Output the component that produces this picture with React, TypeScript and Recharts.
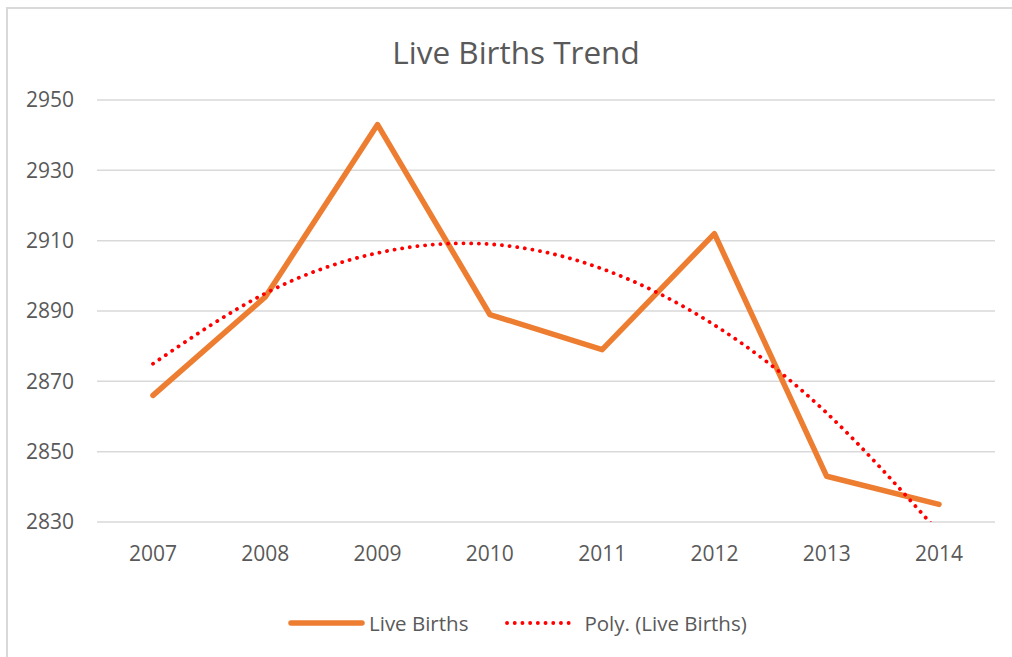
import { LineChart, Line, XAxis, YAxis, CartesianGrid } from "recharts";

const years = ["2007", "2008", "2009", "2010", "2011", "2012", "2013", "2014"];
const liveBirths = [2866, 2894, 2943, 2889, 2879, 2912, 2843, 2835];
const polyTrend = [2875, 2895, 2906.5, 2909, 2902, 2886, 2861, 2827];
const yTicks = [2830, 2850, 2870, 2890, 2910, 2930, 2950];

const data = years.map((year, i) => ({
  year,
  births: liveBirths[i],
  poly: polyTrend[i],
}));

const TEXT = "#595959";
const ORANGE = "#ED7D31";
const RED = "#FF0000";
const FONT = "'Open Sans', sans-serif";

export default function App() {
  return (
    <div
      style={{
        position: "fixed",
        left: 0,
        top: 0,
        width: 1012,
        height: 657,
        overflow: "hidden",
        background: "#fff",
        fontFamily: FONT,
      }}
    >
      <div
        style={{
          position: "absolute",
          left: 6,
          top: 7,
          width: 1100,
          height: 800,
          border: "2px solid #d9d9d9",
        }}
      />
      <div
        style={{
          position: "absolute",
          left: 0,
          top: 32,
          width: 1032,
          textAlign: "center",
          fontSize: 31.5,
          color: TEXT,
          lineHeight: "40px",
        }}
      >
        Live Births Trend
      </div>

      <div style={{ position: "absolute", left: 0, top: 0 }}>
        <LineChart width={1012} height={657} data={data} margin={{ top: 100, right: 17, bottom: 105, left: 0 }}>
          <CartesianGrid vertical={false} stroke="#d9d9d9" strokeWidth={1.5} />
          <XAxis
            dataKey="year"
            axisLine={false}
            tickLine={false}
            tickSize={0}
            tickMargin={24}
            padding={{ left: 56, right: 56 }}
            tick={{ fill: TEXT, fontSize: 21, fontFamily: FONT }}
          />
          <YAxis
            width={97}
            domain={[2830, 2950]}
            ticks={yTicks}
            allowDataOverflow
            axisLine={false}
            tickLine={false}
            tickSize={0}
            tickMargin={23}
            tick={{ fill: TEXT, fontSize: 21, fontFamily: FONT }}
          />
          <Line
            dataKey="births"
            type="linear"
            stroke={ORANGE}
            strokeWidth={5.5}
            strokeLinecap="round"
            strokeLinejoin="round"
            dot={false}
            isAnimationActive={false}
          />
          <Line
            dataKey="poly"
            type="natural"
            stroke={RED}
            strokeWidth={3.8}
            strokeDasharray="0.1 7.6"
            strokeLinecap="round"
            dot={false}
            isAnimationActive={false}
          />
        </LineChart>
      </div>

      <div
        style={{
          position: "absolute",
          left: 288,
          top: 608,
          display: "flex",
          alignItems: "center",
          fontSize: 20.5,
          color: TEXT,
          lineHeight: "30px",
        }}
      >
        <svg width={78} height={10}>
          <line x1={3} y1={5} x2={74} y2={5} stroke={ORANGE} strokeWidth={5.5} strokeLinecap="round" />
        </svg>
        <span style={{ marginLeft: 3 }}>Live Births</span>
        <svg width={78} height={10} style={{ marginLeft: 35 }}>
          <line
            x1={4}
            y1={5}
            x2={72}
            y2={5}
            stroke={RED}
            strokeWidth={3.8}
            strokeDasharray="0.1 7.6"
            strokeLinecap="round"
          />
        </svg>
        <span style={{ marginLeft: 3 }}>Poly. (Live Births)</span>
      </div>
    </div>
  );
}
